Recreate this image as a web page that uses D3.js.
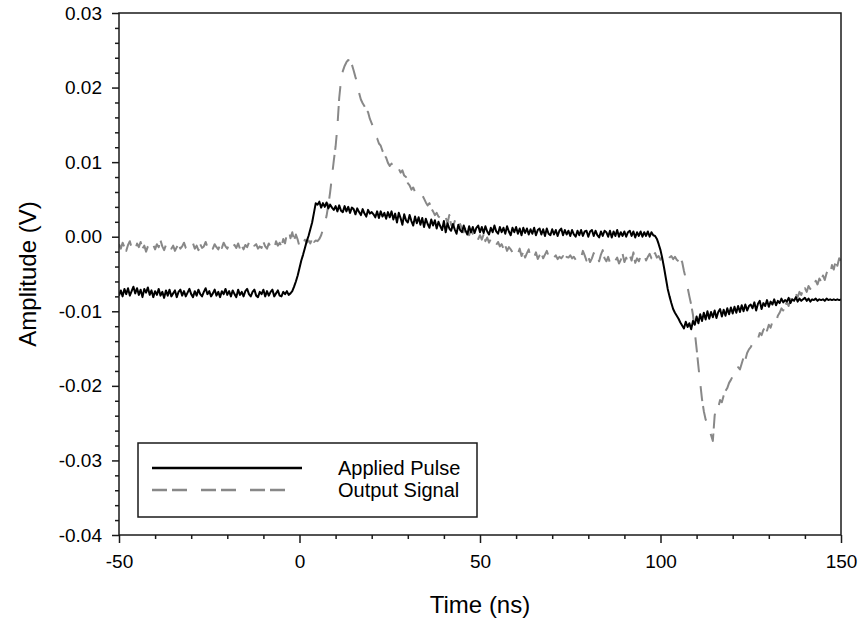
<!DOCTYPE html>
<html>
<head>
<meta charset="utf-8">
<script src="https://cdn.jsdelivr.net/npm/d3@7"></script>
<style>
  html, body { margin: 0; padding: 0; background: #fff; }
  svg { display: block; }
  text { font-family: "Liberation Sans", Arial, sans-serif; fill: #000; }
</style>
</head>
<body>
<svg id="chart" width="861" height="621"></svg>
<script>
const timeStart = -50;
const timeStep = 0.5;

const appliedPulse = [
  -7.9,-7.2,-8.0,-7.0,-7.7,-6.9,-7.9,-7.3,-6.7,-7.6,
  -6.9,-7.8,-7.1,-8.1,-7.0,-7.5,-6.8,-7.8,-7.2,-8.1,
  -7.3,-7.8,-7.0,-7.9,-7.4,-8.2,-7.2,-7.9,-7.1,-8.0,
  -7.6,-7.2,-8.1,-7.4,-7.1,-7.9,-7.3,-8.0,-7.5,-7.0,
  -7.7,-8.1,-7.3,-7.9,-7.1,-7.7,-8.0,-7.4,-6.9,-7.7,
  -7.3,-8.0,-7.6,-7.1,-7.9,-7.4,-8.1,-7.3,-7.7,-7.0,
  -7.8,-7.3,-8.0,-7.2,-7.7,-8.1,-7.1,-7.8,-7.4,-8.0,
  -7.3,-7.0,-7.7,-8.0,-7.4,-7.1,-7.9,-8.1,-7.4,-7.7,
  -7.1,-8.0,-7.3,-7.9,-7.4,-7.1,-8.0,-7.6,-7.2,-7.9,
  -8.0,-7.4,-7.7,-7.3,-7.8,-7.6,-7.3,-6.7,-6.0,-5.2,
  -4.2,-3.2,-2.4,-1.5,-0.6,0.1,1.0,1.9,3.2,4.5,
  4.3,4.7,3.9,4.5,4.0,4.6,3.8,4.3,3.9,3.6,
  4.1,3.4,4.2,3.5,3.3,4.1,3.4,4.0,3.2,3.9,
  3.7,3.0,3.8,3.3,2.9,3.7,3.1,2.7,3.6,3.1,
  3.3,3.0,2.6,3.4,2.5,3.4,2.7,3.2,2.4,3.3,
  2.6,3.4,2.3,3.1,1.9,3.2,2.5,1.6,3.0,2.2,
  1.9,2.9,2.1,1.5,2.7,1.8,2.6,1.6,2.5,1.3,
  2.4,1.7,1.2,2.3,1.5,2.2,1.1,2.0,1.4,0.9,
  2.1,0.6,1.8,1.1,0.8,1.7,1.0,0.4,1.6,0.9,
  0.6,1.5,0.8,0.3,1.4,0.6,1.3,0.5,1.2,1.5,
  0.6,1.3,0.5,1.4,0.7,0.3,1.2,0.6,1.5,0.7,
  0.4,1.3,0.6,1.2,0.4,1.4,0.7,0.2,1.2,0.6,
  1.3,0.4,1.1,0.2,1.2,0.5,1.1,0.3,1.0,0.4,
  1.2,0.2,0.9,1.1,0.3,1.0,0.1,1.1,0.4,0.2,
  1.0,0.3,0.9,0.1,0.8,1.1,0.2,0.9,0.3,0.8,
  0.1,0.9,0.3,0.0,0.8,0.2,0.9,0.1,0.7,0.8,
  0.0,0.7,0.9,0.1,0.8,0.2,-0.1,0.7,0.1,0.8,
  0.6,0.0,0.8,-0.1,0.7,0.1,0.9,0.0,0.6,0.1,
  0.7,0.0,0.6,0.8,0.1,0.7,-0.1,0.6,0.1,0.7,
  0.0,0.6,0.1,0.7,0.0,0.6,0.2,0.1,-0.3,-1.0,
  -1.8,-2.9,-4.2,-5.6,-7.0,-8.0,-8.9,-9.7,-10.2,-10.6,
  -11.0,-11.5,-11.9,-12.3,-11.4,-12.1,-11.6,-12.4,-11.3,-11.8,
  -10.7,-11.6,-10.4,-11.3,-10.2,-11.1,-10.0,-11.0,-10.1,-10.8,
  -9.9,-10.9,-10.1,-9.7,-10.7,-9.8,-10.6,-9.6,-10.4,-9.5,
  -10.3,-9.4,-10.2,-9.3,-10.1,-9.2,-10.0,-9.1,-9.9,-9.3,
  -9.1,-9.6,-8.8,-9.9,-9.0,-8.6,-9.7,-8.9,-9.3,-8.5,
  -9.4,-8.7,-9.1,-8.4,-9.2,-8.6,-8.9,-8.3,-8.8,-8.5,
  -8.7,-8.2,-8.9,-8.4,-8.6,-8.1,-8.7,-8.3,-8.6,-8.4,
  -8.2,-8.6,-8.3,-8.7,-8.4,-8.5,-8.3,-8.6,-8.4,-8.5,
  -8.4,-8.6,-8.3,-8.5,-8.4,-8.5,-8.4,-8.5,-8.4,-8.5,
  -8.4
];

const outputSignal = [
  -1.0,-1.6,-0.8,-1.4,-1.9,-1.1,-0.6,-1.5,-1.2,-1.8,
  -0.9,-1.4,-0.7,-1.6,-1.2,-2.0,-1.3,-0.8,-1.5,-1.1,
  -1.7,-1.0,-1.4,-0.5,-1.3,-1.8,-1.1,-1.5,-0.9,-1.6,
  -1.2,-1.9,-1.4,-1.0,-1.6,-1.3,-0.8,-1.5,-1.7,-1.1,
  -1.4,-0.9,-1.6,-1.2,-1.8,-1.0,-1.5,-1.3,-0.7,-1.4,
  -1.9,-1.2,-1.6,-1.0,-1.4,-1.7,-1.1,-1.5,-0.8,-1.3,
  -1.6,-1.0,-1.8,-1.3,-1.1,-1.5,-0.9,-1.6,-1.2,-1.7,
  -1.1,-1.4,-0.8,-1.5,-1.9,-1.2,-1.0,-1.6,-1.3,-1.5,
  -0.7,-1.3,-1.6,-0.9,-1.4,-1.1,-1.7,-0.6,-1.2,-0.8,
  -1.3,-0.3,-0.9,0.4,1.0,-0.2,0.6,-0.5,0.3,-0.4,
  -1.3,-0.6,-1.0,-0.4,-0.8,-0.5,-0.9,-0.3,-0.7,-0.5,
  -0.6,-0.3,0.2,1.0,1.8,2.8,4.3,6.0,8.1,10.2,
  12.1,14.8,18.6,21.0,22.2,22.9,23.4,23.7,23.5,23.1,
  22.3,21.4,20.6,19.3,18.4,17.9,17.5,17.0,16.7,15.8,
  15.2,14.6,13.6,13.2,12.5,12.2,11.5,11.0,10.6,9.9,
  9.5,9.8,9.2,9.0,9.5,9.1,8.6,8.9,8.2,8.0,
  7.2,6.9,6.3,6.6,6.0,5.7,5.9,5.4,5.6,5.1,
  4.6,4.2,4.5,3.8,3.4,2.9,3.2,2.7,2.5,2.9,
  2.2,2.6,1.8,2.9,1.6,1.2,2.1,1.5,0.9,1.7,
  1.1,0.6,1.3,0.7,0.2,0.9,0.4,0.0,0.6,-0.3,
  0.2,-0.4,0.3,-0.6,-0.1,-0.8,-0.3,-0.9,-0.5,-1.1,
  -0.7,-1.3,-1.0,-1.6,-1.2,-1.9,-1.4,-1.7,-2.1,-1.5,
  -1.8,-2.3,-1.6,-2.6,-2.0,-2.8,-2.2,-1.7,-2.9,-2.4,
  -2.7,-2.1,-3.0,-2.5,-2.2,-2.9,-2.4,-1.9,-2.6,-3.0,
  -2.4,-2.8,-2.5,-3.0,-2.7,-2.9,-2.6,-3.0,-2.7,-2.8,
  -2.5,-2.9,-2.7,-3.1,-2.6,-2.3,-2.8,-1.9,-2.5,-3.2,
  -2.7,-3.4,-2.9,-2.2,-3.1,-2.6,-3.3,-2.4,-1.8,-2.9,
  -3.3,-2.7,-3.5,-3.0,-2.6,-3.2,-2.8,-3.6,-3.1,-2.3,
  -3.4,-2.8,-3.6,-2.5,-3.2,-2.1,-3.5,-2.9,-3.3,-2.6,
  -3.0,-2.4,-3.2,-2.7,-2.3,-2.9,-2.5,-2.2,-2.8,-2.6,
  -3.1,-2.7,-2.4,-2.9,-3.2,-2.8,-2.6,-3.0,-2.7,-3.1,
  -3.3,-3.0,-3.4,-4.6,-5.6,-6.8,-8.0,-9.1,-10.5,-12.8,
  -15.0,-17.4,-19.6,-21.8,-23.4,-24.5,-25.1,-25.9,-26.6,-27.4,
  -24.0,-22.6,-22.9,-21.9,-22.2,-21.3,-20.7,-20.3,-19.6,-19.2,
  -18.7,-18.9,-18.1,-17.5,-17.8,-17.0,-16.2,-16.5,-15.6,-15.1,
  -14.8,-14.3,-14.0,-13.4,-13.7,-12.9,-13.2,-12.5,-12.1,-12.6,
  -11.8,-12.2,-11.4,-11.0,-11.5,-10.6,-10.2,-9.6,-9.9,-9.2,
  -8.8,-9.3,-8.5,-8.0,-8.6,-7.7,-8.1,-7.4,-7.8,-7.1,
  -6.9,-7.4,-6.6,-7.0,-6.2,-6.7,-5.9,-6.4,-5.6,-6.0,
  -5.2,-5.8,-4.9,-4.3,-5.0,-3.8,-4.4,-3.3,-3.9,-2.9,
  -3.2
];

const seriesNames = ["Applied Pulse", "Output Signal"];
const xTicks = [-50, 0, 50, 100, 150];
const yTicks = [30, 20, 10, 0, -10, -20, -30, -40]; // mV, labelled in volts
const xLabel = "Time (ns)";
const yLabel = "Amplitude (V)";

// ---- Layout ----
const svg = d3.select("#chart");
const plotLeft = 119, plotRight = 841, plotTop = 13, plotBottom = 535;

const x = d3.scaleLinear().domain([-50, 150]).range([plotLeft, plotRight]);
const y = d3.scaleLinear().domain([-40, 30]).range([plotBottom, plotTop]);

const toPoints = arr => arr.map((v, i) => ({ t: timeStart + i * timeStep, v }));

const line = d3.line().x(d => x(d.t)).y(d => y(d.v));

svg.append("clipPath").attr("id", "clip")
  .append("rect").attr("x", plotLeft).attr("y", plotTop)
  .attr("width", plotRight - plotLeft).attr("height", plotBottom - plotTop);

const g = svg.append("g").attr("clip-path", "url(#clip)");
g.append("path").datum(toPoints(outputSignal))
  .attr("d", line).attr("fill", "none")
  .attr("stroke", "#888").attr("stroke-width", 2)
  .attr("stroke-dasharray", "15,5,15,14")
  .attr("stroke-linejoin", "round");
g.append("path").datum(toPoints(appliedPulse))
  .attr("d", line).attr("fill", "none")
  .attr("stroke", "#000").attr("stroke-width", 2)
  .attr("stroke-linejoin", "round");

// Axes
const axisColor = "#1a1a1a";
const xMinor = d3.range(-50, 151, 10).filter(v => !xTicks.includes(v));
const yMinor = d3.range(-40, 31, 2).filter(v => !yTicks.includes(v));

const xAxis = svg.append("g").attr("transform", `translate(0,${plotBottom})`)
  .call(d3.axisBottom(x).tickValues(xTicks).tickSize(8).tickPadding(12).tickFormat(d => String(d)));
const xAxisMinor = svg.append("g").attr("transform", `translate(0,${plotBottom})`)
  .call(d3.axisBottom(x).tickValues(xMinor).tickSize(4).tickFormat(""));
const yAxis = svg.append("g").attr("transform", `translate(${plotLeft},0)`)
  .call(d3.axisLeft(y).tickValues(yTicks).tickSize(7).tickPadding(10).tickFormat(d => (d / 1000).toFixed(2)));
const yAxisMinor = svg.append("g").attr("transform", `translate(${plotLeft},0)`)
  .call(d3.axisLeft(y).tickValues(yMinor).tickSize(4).tickFormat(""));

[xAxis, xAxisMinor, yAxis, yAxisMinor].forEach(a => {
  a.select(".domain").remove();
  a.selectAll("line").attr("stroke", axisColor).attr("stroke-width", 1.5);
  a.selectAll("text").attr("font-size", 19).attr("font-family", "'Liberation Sans', Arial, sans-serif").attr("fill", "#000");
});

// Frame
svg.append("rect").attr("x", plotLeft).attr("y", plotTop)
  .attr("width", plotRight - plotLeft).attr("height", plotBottom - plotTop)
  .attr("fill", "none").attr("stroke", axisColor).attr("stroke-width", 1.5);

// Axis titles
svg.append("text").attr("x", 480).attr("y", 613)
  .attr("text-anchor", "middle").attr("font-size", 24).text(xLabel);
svg.append("text").attr("transform", `translate(36,${(plotTop + plotBottom) / 2}) rotate(-90)`)
  .attr("text-anchor", "middle").attr("font-size", 24).text(yLabel);

// Legend
const lg = svg.append("g");
lg.append("rect").attr("x", 138).attr("y", 443).attr("width", 339).attr("height", 74)
  .attr("fill", "#fff").attr("stroke", axisColor).attr("stroke-width", 1.5);
const legendStyles = [
  { stroke: "#000", dash: null, x2: 302 },
  { stroke: "#888", dash: "15,5,15,14", x2: 288 }
];
seriesNames.forEach((name, i) => {
  const yy = 468 + i * 22;
  lg.append("line").attr("x1", 152).attr("x2", legendStyles[i].x2).attr("y1", yy).attr("y2", yy)
    .attr("stroke", legendStyles[i].stroke).attr("stroke-width", 2.5)
    .attr("stroke-dasharray", legendStyles[i].dash);
  lg.append("text").attr("x", 338).attr("y", yy + 7).attr("font-size", 20).text(name);
});
</script>
</body>
</html>
